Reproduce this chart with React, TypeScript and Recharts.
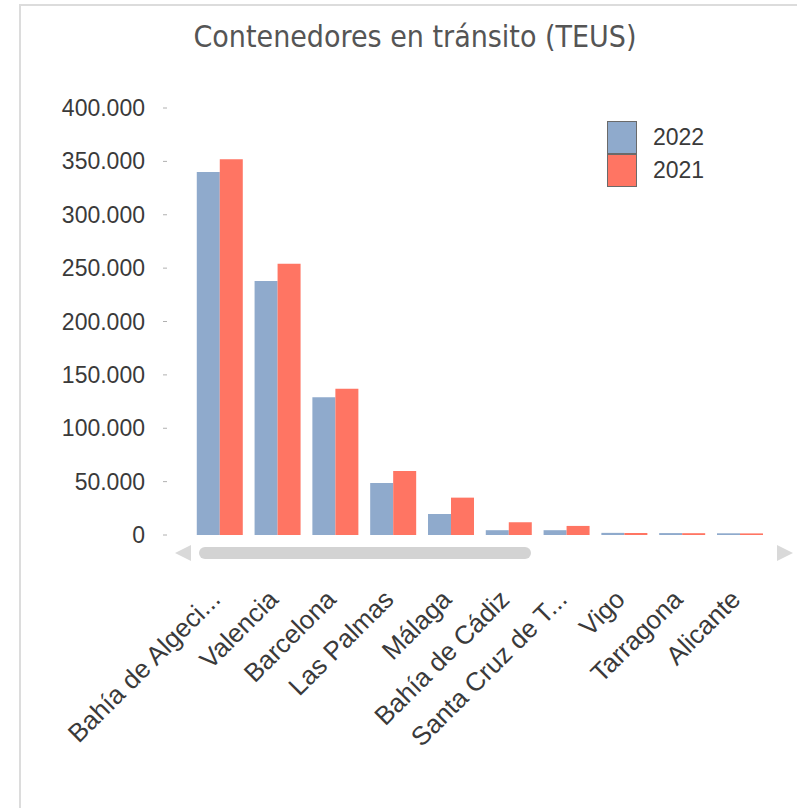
import React from "react";
import { BarChart, Bar, XAxis, YAxis, Legend } from "recharts";

const ports = [
  "Bahía de Algeciras",
  "Valencia",
  "Barcelona",
  "Las Palmas",
  "Málaga",
  "Bahía de Cádiz",
  "Santa Cruz de Tenerife",
  "Vigo",
  "Tarragona",
  "Alicante",
];
const teus2022 = [340000, 238000, 129000, 48700, 19700, 4500, 4500, 2000, 1800, 1600];
const teus2021 = [352000, 254000, 137000, 60000, 35000, 12000, 8500, 1900, 1700, 1500];
const yTicks = [0, 50000, 100000, 150000, 200000, 250000, 300000, 350000, 400000];
const seriesNames = ["2022", "2021"];

const data = ports.map((port, i) => ({
  port,
  y2022: teus2022[i],
  y2021: teus2021[i],
}));

const BLUE = "#8FAACC";
const RED = "#FF7563";
const FONT = "'Liberation Sans', Arial, sans-serif";

const fmt = (v: number) => String(v).replace(/\B(?=(\d{3})+(?!\d))/g, ".");
const shorten = (s: string) => (s.length > 15 ? s.slice(0, 15) + "..." : s);

const YTick = ({ x, y, payload }: any) => (
  <g>
    <text
      x={x - 46}
      y={y}
      textAnchor="end"
      dominantBaseline="central"
      fontFamily={FONT}
      fontSize={23}
      fill="#3a3a3a"
    >
      {fmt(payload.value)}
    </text>
    <line x1={x - 28} x2={x - 24} y1={y} y2={y} stroke="#b0b0b0" />
  </g>
);

const XTick = ({ x, y, payload }: any) => {
  const tx = x + 2;
  const ty = y + 66;
  return (
    <text
      x={tx}
      y={ty}
      transform={`rotate(-45, ${tx}, ${ty})`}
      textAnchor="end"
      fontFamily={FONT}
      fontSize={26}
      fill="#3a3a3a"
    >
      {shorten(payload.value)}
    </text>
  );
};

const LegendBox = ({ payload }: any) => {
  const items = [...(payload || [])].sort(
    (a: any, b: any) => seriesNames.indexOf(a.value) - seriesNames.indexOf(b.value)
  );
  return (
    <div style={{ fontFamily: FONT, fontSize: 23, color: "#3a3a3a" }}>
      {items.map((p: any) => (
        <div key={p.value} style={{ display: "flex", alignItems: "center", height: 33 }}>
          <div
            style={{
              width: 28,
              height: 31,
              background: p.color,
              border: "1px solid #6a6a6a",
              marginRight: 16,
            }}
          />
          <span>{p.value}</span>
        </div>
      ))}
    </div>
  );
};

export default function App() {
  return (
    <div style={{ position: "absolute", left: 0, top: 0, width: 797, height: 808, background: "#fff", overflow: "hidden" }}>
      <div
        style={{
          position: "absolute",
          left: 19,
          top: 4,
          width: 800,
          height: 820,
          borderLeft: "2px solid #dcdcdc",
          borderTop: "2px solid #dcdcdc",
        }}
      />
      <div
        style={{
          position: "absolute",
          left: 0,
          width: 830,
          top: 17,
          textAlign: "center",
          fontFamily: "'DejaVu Sans Condensed', 'DejaVu Sans', sans-serif",
          fontSize: 30,
          color: "#555",
          lineHeight: "40px",
        }}
      >
        Contenedores en tránsito (TEUS)
      </div>
      <div style={{ position: "absolute", left: 0, top: 0 }}>
        <BarChart
          width={797}
          height={808}
          data={data}
          margin={{ top: 108, right: 28, bottom: 73, left: 0 }}
          barCategoryGap="10%"
          barGap={0}
        >
          <XAxis
            dataKey="port"
            interval={0}
            axisLine={false}
            tickLine={false}
            tickSize={0}
            tickMargin={0}
            height={200}
            tick={<XTick />}
          />
          <YAxis
            width={191}
            domain={[0, 400000]}
            ticks={yTicks}
            axisLine={false}
            tickLine={false}
            tickSize={0}
            tickMargin={0}
            tick={<YTick />}
          />
          <Legend
            layout="vertical"
            align="center"
            verticalAlign="middle"
            content={<LegendBox />}
            wrapperStyle={{ top: 121, left: 607, width: "auto" }}
          />
          <Bar dataKey="y2022" name="2022" fill={BLUE} isAnimationActive={false} />
          <Bar dataKey="y2021" name="2021" fill={RED} isAnimationActive={false} />
        </BarChart>
      </div>
      <svg style={{ position: "absolute", left: 0, top: 0 }} width={797} height={808} pointerEvents="none">
        <polygon points="175,553 191,545 191,561" fill="#d9d9d9" />
        <rect x={199} y={547} width={332} height={12} rx={6} fill="#d3d3d3" />
        <polygon points="793,553 777,545 777,561" fill="#d9d9d9" />
      </svg>
    </div>
  );
}
